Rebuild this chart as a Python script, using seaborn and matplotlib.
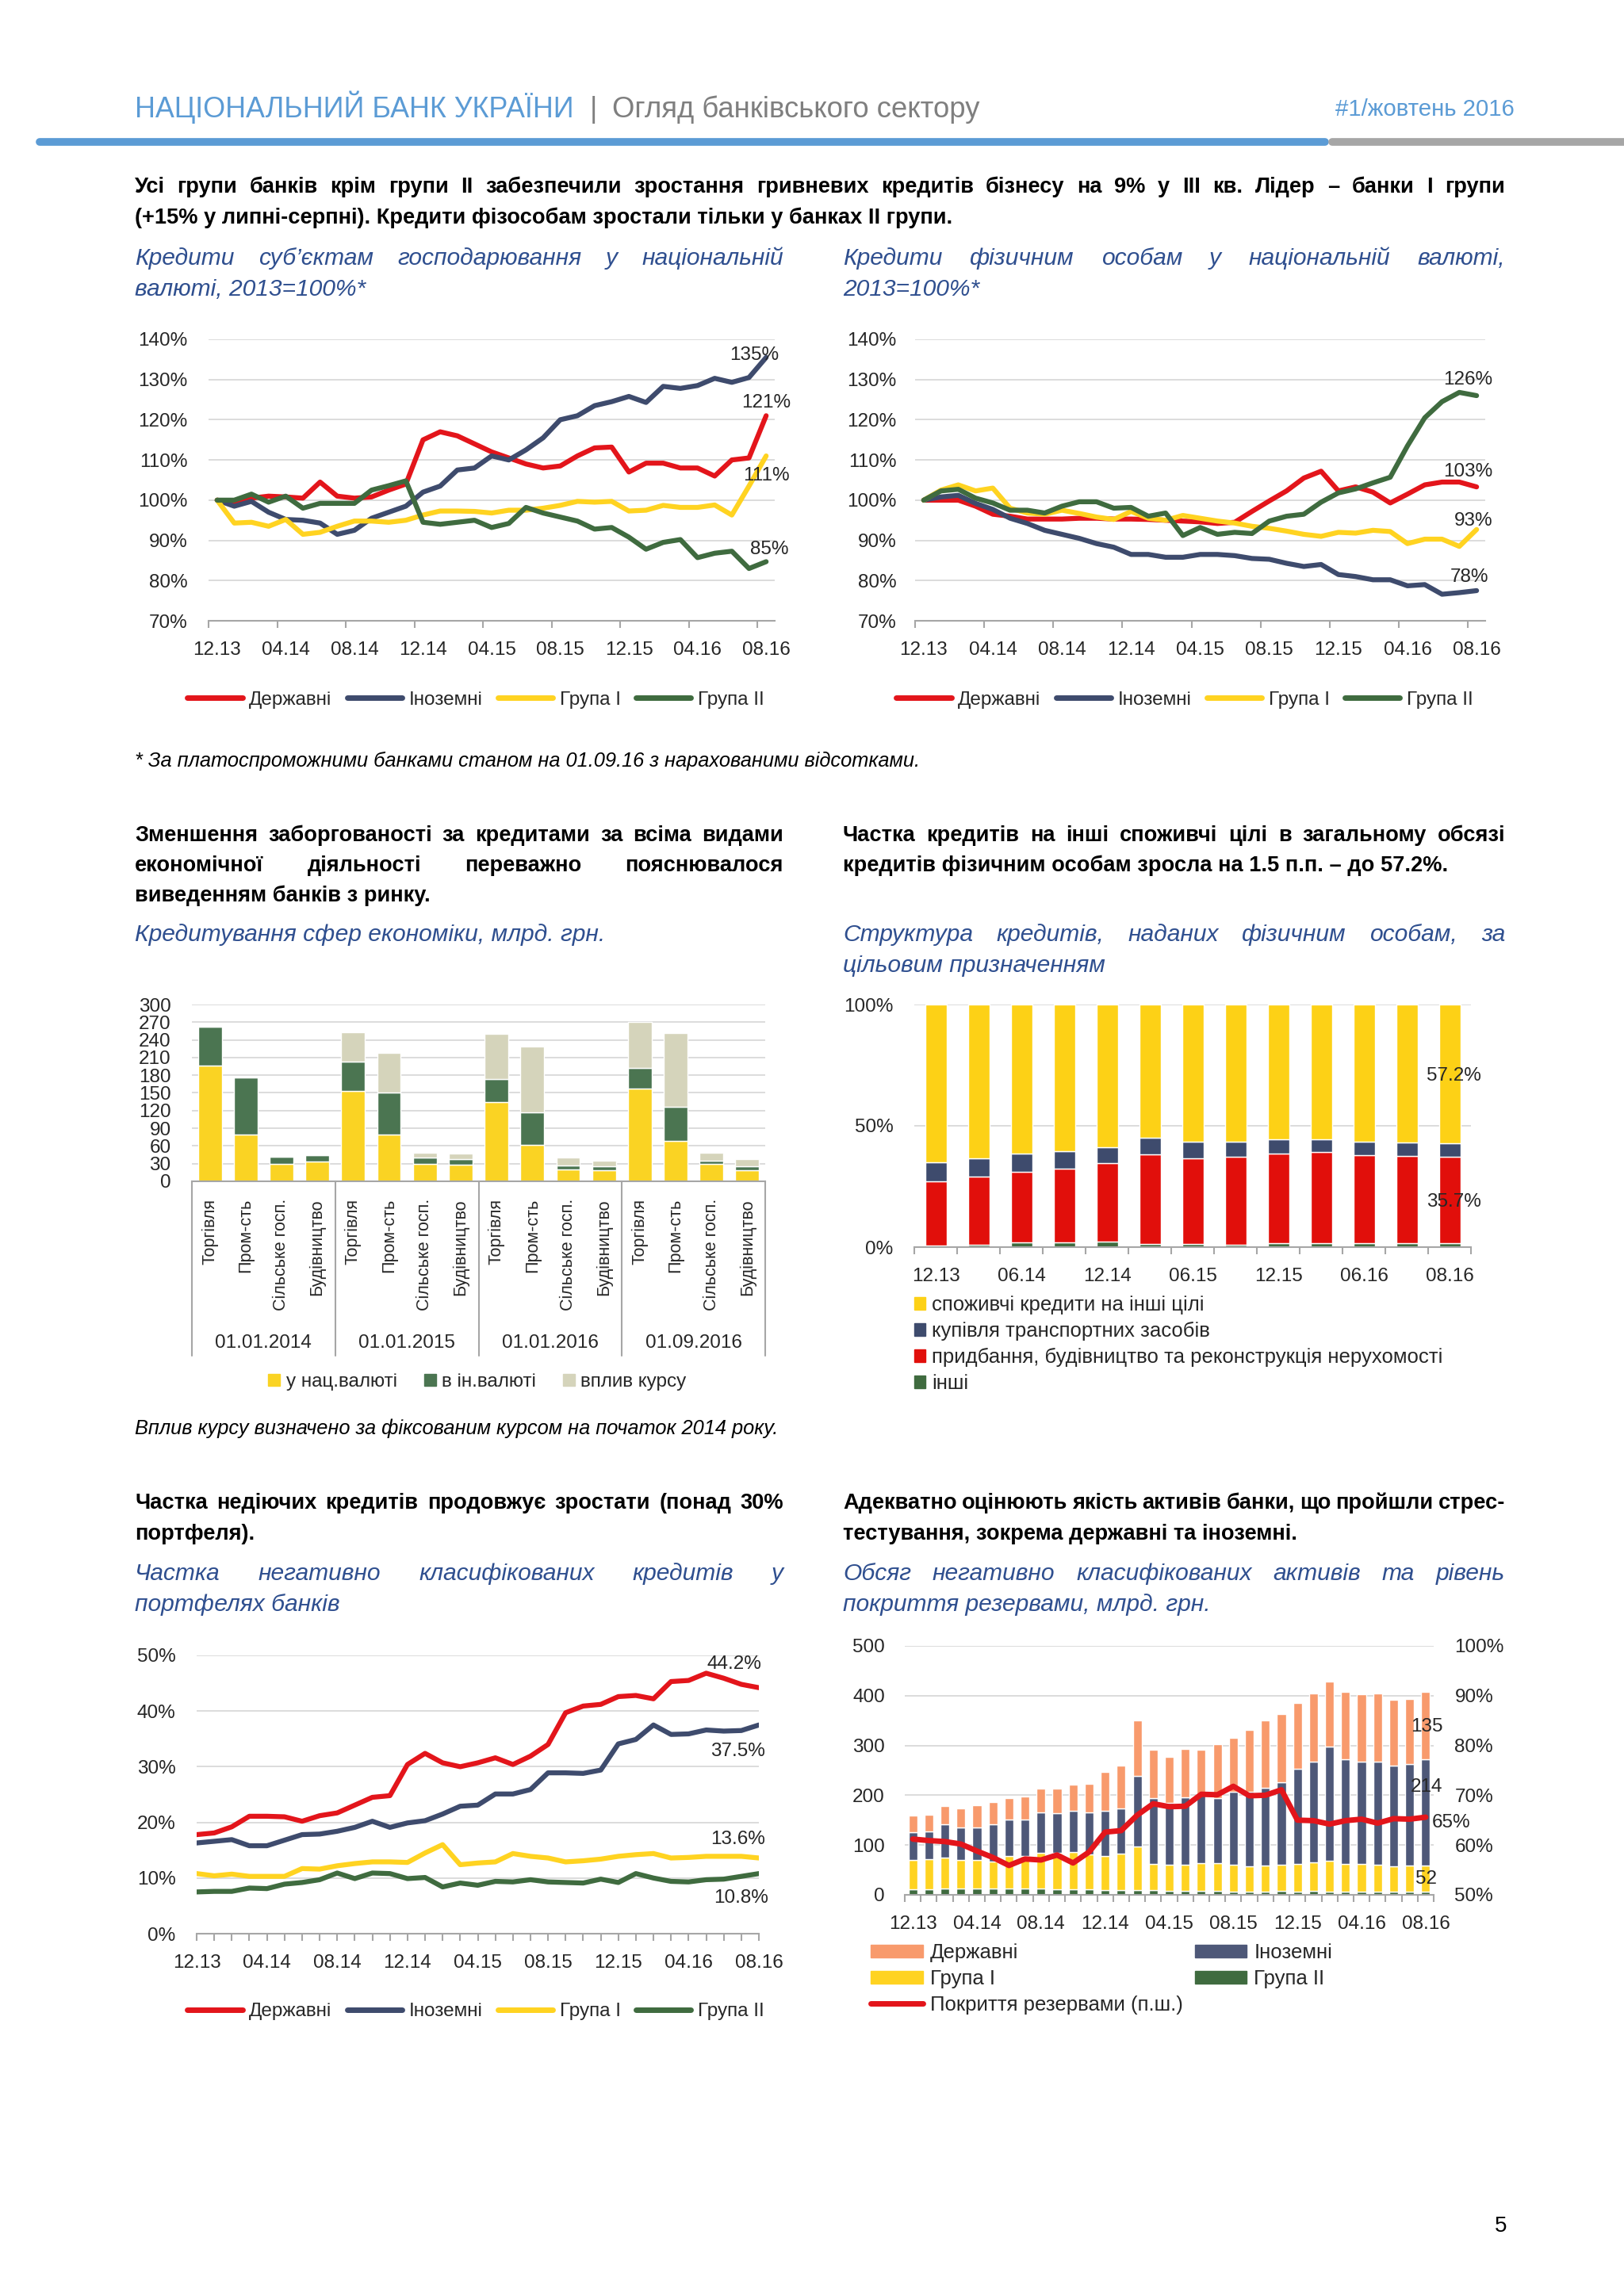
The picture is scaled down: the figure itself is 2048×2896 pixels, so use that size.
import numpy as np
import pandas as pd
import seaborn as sns
import matplotlib.pyplot as plt
from matplotlib.lines import Line2D
from matplotlib.patches import Patch

W, H = 2048, 2896

# ---------------------------------------------------------------- data
groups = ['Державні', 'Іноземні', 'Група I', 'Група II']
month_ticks = ['12.13', '04.14', '08.14', '12.14', '04.15', '08.15', '12.15', '04.16', '08.16']

# кредити бізнесу в нац. валюті, 2013=100%
biz_state = [100, 99.5, 100.5, 101, 100.8, 100.5, 104.5, 101, 100.5, 100.8, 102.5, 104, 115, 117, 116, 114, 112,
             110.5, 109, 108, 108.5, 111, 113, 113.2, 107, 109.2, 109.2, 108, 108, 106, 110, 110.5, 121]
biz_foreign = [100, 98.5, 99.7, 97, 95.2, 95, 94.3, 91.5, 92.5, 95.5, 97, 98.5, 102, 103.5, 107.5, 108, 111,
               110, 112.5, 115.5, 120, 121, 123.5, 124.5, 125.8, 124.3, 128.3, 127.8, 128.5, 130.3, 129.3, 130.5, 135.5]
biz_g1 = [100, 94.3, 94.5, 93.5, 95.2, 91.5, 92, 93.5, 94.8, 94.8, 94.5, 95, 96.3, 97.3, 97.3, 97.2, 96.8,
          97.5, 97.5, 98, 98.7, 99.7, 99.5, 99.7, 97.3, 97.5, 98.7, 98.2, 98.2, 98.8, 96.3, 103.5, 111]
biz_g2 = [100, 100, 101.5, 99.5, 101, 98, 99.2, 99.2, 99.2, 102.5, 103.6, 104.8, 94.5, 94, 94.5, 95, 93.2,
          94.2, 98.2, 96.8, 95.8, 94.8, 92.8, 93.2, 90.8, 87.8, 89.5, 90.2, 85.7, 86.8, 87.3, 83, 84.7]

# кредити фізособам в нац. валюті, 2013=100%
hh_state = [100, 100, 100, 98.5, 96.5, 96, 95.3, 95.3, 95.3, 95.5, 95.5, 95.3, 95.3, 95.2, 95, 94.8, 94.6,
            94.2, 94.5, 97.2, 99.8, 102.3, 105.5, 107.2, 102.3, 103.3, 102, 99.3, 101.5, 103.8, 104.5, 104.5, 103.3]
hh_foreign = [100, 100.8, 101.2, 99.2, 97.7, 95.5, 94.2, 92.5, 91.5, 90.5, 89.2, 88.3, 86.5, 86.5, 85.8, 85.8, 86.5,
              86.5, 86.2, 85.5, 85.3, 84.3, 83.5, 84, 81.5, 81, 80.2, 80.2, 78.7, 79, 76.6, 77, 77.5]
hh_g1 = [100, 102.5, 103.8, 102.3, 103, 98, 96.8, 96.5, 97.5, 96.7, 95.8, 95.2, 97.2, 95.5, 95, 96.2, 95.5,
         94.8, 94.3, 93.5, 93, 92.3, 91.5, 91, 92, 91.8, 92.5, 92.2, 89.2, 90.3, 90.3, 88.5, 92.7]
hh_g2 = [100, 102.3, 102.7, 100.5, 99.3, 97.5, 97.5, 96.8, 98.5, 99.6, 99.6, 98, 98.2, 96, 96.8, 91.2, 93.2,
         91.5, 92, 91.7, 94.8, 96, 96.5, 99.5, 101.8, 102.8, 104.3, 105.7, 113.5, 120.5, 124.5, 126.8, 126]

# кредитування сфер економіки, млрд грн
sectors = ['Торгівля', 'Пром-сть', 'Сільське госп.', 'Будівництво']
sector_dates = ['01.01.2014', '01.01.2015', '01.01.2016', '01.09.2016']
sec_uah = [196, 80, 30, 33, 153, 80, 30, 28, 135, 62, 20, 19, 157, 69, 29, 19]
sec_fx = [67, 96, 12, 12, 50, 71, 10, 10, 39, 55, 7, 6, 36, 57, 6, 6]
sec_rate = [0, 0, 0, 0, 50, 67, 9, 9, 76, 112, 13, 10, 78, 125, 13, 12]

# структура кредитів фізособам, %
purpose_ticks = ['12.13', '06.14', '12.14', '06.15', '12.15', '06.16', '08.16']
p_consumer = [64.9, 63.4, 61.5, 60.6, 58.7, 54.8, 56.6, 56.4, 55.7, 55.4, 56.6, 57.0, 57.2]
p_vehicle = [8.1, 7.5, 7.3, 7.1, 6.7, 6.9, 6.8, 6.4, 5.7, 5.3, 5.4, 5.5, 5.6]
p_realty = [26.2, 28.1, 29.2, 30.3, 32.4, 37.1, 35.4, 36.2, 37.1, 37.8, 36.5, 36.0, 35.7]
p_other = [0.8, 1.0, 2.0, 2.0, 2.2, 1.2, 1.2, 1.0, 1.5, 1.5, 1.5, 1.5, 1.5]

# частка негативно класифікованих кредитів, %
npl_state = [17.8, 18.1, 19.2, 21.1, 21.1, 21.0, 20.2, 21.2, 21.7, 23.1, 24.5, 24.8, 30.4, 32.4, 30.7, 30.0, 30.7,
             31.6, 30.4, 31.9, 34.0, 39.7, 40.9, 41.2, 42.6, 42.8, 42.2, 45.3, 45.5, 46.8, 45.9, 44.8, 44.2]
npl_foreign = [16.3, 16.6, 16.9, 15.8, 15.8, 16.8, 17.8, 17.9, 18.4, 19.1, 20.2, 19.1, 19.9, 20.3, 21.5, 22.9, 23.1,
               25.1, 25.1, 25.9, 28.9, 28.9, 28.8, 29.4, 34.1, 34.9, 37.5, 35.8, 35.9, 36.6, 36.4, 36.5, 37.5]
npl_g1 = [10.8, 10.4, 10.7, 10.3, 10.3, 10.3, 11.7, 11.6, 12.2, 12.6, 12.9, 12.9, 12.8, 14.5, 16.0, 12.4, 12.7,
          12.9, 14.4, 13.9, 13.6, 12.9, 13.1, 13.4, 13.9, 14.2, 14.4, 13.6, 13.7, 13.9, 13.9, 13.9, 13.6]
npl_g2 = [7.5, 7.6, 7.6, 8.2, 8.1, 8.9, 9.2, 9.7, 10.9, 9.9, 10.9, 10.8, 9.9, 10.1, 8.4, 9.1, 8.7,
          9.4, 9.3, 9.7, 9.3, 9.2, 9.1, 9.8, 9.2, 10.8, 10.0, 9.4, 9.3, 9.7, 9.8, 10.3, 10.8]

# обсяг негативно класифікованих активів, млрд грн, та покриття резервами, %
na_state = [33, 33, 37, 39, 45, 44, 43, 45, 48, 50, 52, 57, 79, 85, 112, 98, 93, 97, 92, 107, 109, 125, 136, 137,
            132, 137, 132, 135, 135, 136, 133, 131, 135]
na_foreign = [56, 57, 67, 65, 65, 75, 74, 74, 81, 80, 83, 84, 90, 91, 142, 132, 124, 135, 136, 131, 146, 150, 156,
              165, 191, 203, 229, 211, 206, 207, 201, 203, 214]
na_g1 = [59, 60, 63, 58, 58, 55, 66, 66, 72, 73, 75, 71, 68, 74, 88, 53, 52, 53, 56, 56, 54, 50, 52, 53, 55, 57,
         61, 55, 55, 54, 51, 52, 52]
na_g2 = [11, 11, 12, 12, 12, 12, 12, 12, 12, 11, 11, 11, 10, 9, 9, 9, 8, 8, 8, 8, 7, 7, 7, 8, 7, 8, 7, 7, 7, 7,
         7, 7, 7]
coverage = [61.2, 60.9, 60.7, 60.2, 58.8, 57.5, 55.9, 57.2, 57.0, 58.0, 56.4, 58.6, 62.6, 62.9, 66.0, 68.3, 67.7,
            67.8, 70.2, 70.1, 71.8, 69.9, 70.0, 71.1, 65.0, 64.9, 64.2, 64.9, 65.2, 64.4, 65.3, 65.2, 65.6]

# ---------------------------------------------------------------- style
sns.set_theme(style='white')
plt.rcParams['font.family'] = ['Liberation Sans', 'DejaVu Sans']

RED, NAVY, YEL, GRN = '#e3151b', '#3e4b6d', '#ffd321', '#3f6b3f'
line_cols = dict(zip(groups, [RED, NAVY, YEL, GRN]))
TXT = '#262626'
SUB = '#2f4f8f'
AXC = '#a6a6a6'
TICK = 17.5
LEG2 = 18.5

fig = plt.figure(figsize=(W / 100, H / 100), dpi=100)
R = fig.canvas.get_renderer()


def add_ax(x0, y0, x1, y1):
    return fig.add_axes([x0 / W, 1 - y1 / H, (x1 - x0) / W, (y1 - y0) / H])


def width(s, size, **kw):
    t = fig.text(0, 0, s, fontsize=size, **kw)
    w = t.get_window_extent(R).width
    t.remove()
    return w


def fit(s, target, **kw):
    return 10 * target / width(s, 10, **kw)


def put(x, y, s, size, ha='left', **kw):
    base = y + 0.36 * size / 0.72
    fig.text(x / W, 1 - base / H, s, fontsize=size, ha=ha, va='baseline', **kw)


def para(x0, x1, y, lines, size, lh=38.8, **kw):
    for k, s in enumerate(lines):
        yy = y + k * lh
        words = s.split(' ')
        if k == len(lines) - 1 or len(words) < 2:
            put(x0, yy, s, size, **kw)
            continue
        ws = [width(w, size, **kw) for w in words]
        gap = (x1 - x0 - sum(ws)) / (len(words) - 1)
        x = x0
        for w, wd in zip(words, ws):
            put(x, yy, w, size, **kw)
            x += wd + gap


def style(ax, ypad):
    ax.set_xlabel('')
    ax.set_ylabel('')
    for s in ['left', 'top', 'right']:
        ax.spines[s].set_visible(False)
    ax.spines['bottom'].set_color(AXC)
    ax.spines['bottom'].set_linewidth(1.5)
    ax.grid(axis='y', color='#d9d9d9', lw=1.3)
    ax.grid(axis='x', visible=False)
    ax.set_axisbelow(True)
    ax.tick_params(axis='y', length=0, pad=ypad, labelsize=TICK, labelcolor=TXT)
    ax.tick_params(axis='x', labelsize=TICK, labelcolor=TXT)


def lines_df(vals):
    n = len(vals[0])
    return pd.DataFrame({'x': np.tile(np.arange(n), len(vals)),
                         'v': np.concatenate(vals),
                         'g': np.repeat(groups, n)})


def line_legend(cx, cy):
    hs = [Line2D([], [], color=line_cols[g], lw=5, solid_capstyle='round') for g in groups]
    fig.legend(hs, groups, loc='center', bbox_to_anchor=(cx / W, 1 - cy / H), ncol=4, frameon=False,
               fontsize=TICK, handlelength=2.85, handletextpad=0.35, columnspacing=0.8,
               borderpad=0, labelcolor=TXT)


# ---------------------------------------------------------------- header
put(170, 135, 'НАЦІОНАЛЬНИЙ БАНК УКРАЇНИ', fit('НАЦІОНАЛЬНИЙ БАНК УКРАЇНИ', 554), color='#5b9bd5')
put(748, 135, '|', 26, color='#7f7f7f', ha='center')
put(772, 135, 'Огляд банківського сектору', fit('Огляд банківського сектору', 465), color='#7f7f7f')
put(1684, 135, '#1/жовтень 2016', fit('#1/жовтень 2016', 227), color='#5b9bd5')
fig.add_artist(Line2D([50 / W, 1671 / W], [1 - 179 / H] * 2, color='#5b9bd5', lw=7))
fig.add_artist(Line2D([1680 / W, 1], [1 - 179 / H] * 2, color='#a6a6a6', lw=7))

# ---------------------------------------------------------------- texts
headline = ['Усі групи банків крім групи II забезпечили зростання гривневих кредитів бізнесу на 9% у III кв. Лідер – банки I групи',
            '(+15% у липні-серпні). Кредити фізособам зростали тільки у банках II групи.']
head3 = ['Зменшення заборгованості за кредитами за всіма видами', 'економічної діяльності переважно пояснювалося',
         'виведенням банків з ринку.']
head4 = ['Частка кредитів на інші споживчі цілі в загальному обсязі',
         'кредитів фізичним особам зросла на 1.5 п.п. – до 57.2%.']
head5 = ['Частка недіючих кредитів продовжує зростати (понад 30%', 'портфеля).']
head6 = ['Адекватно оцінюють якість активів банки, що пройшли стрес-', 'тестування, зокрема державні та іноземні.']
sub1 = ['Кредити суб’єктам господарювання у національній', 'валюті, 2013=100%*']
sub2 = ['Кредити фізичним особам у національній валюті,', '2013=100%*']
sub3 = ['Кредитування сфер економіки, млрд. грн.']
sub4 = ['Структура кредитів, наданих фізичним особам, за', 'цільовим призначенням']
sub5 = ['Частка негативно класифікованих кредитів у', 'портфелях банків']
sub6 = ['Обсяг негативно класифікованих активів та рівень', 'покриття резервами, млрд. грн.']
foot1 = '* За платоспроможними банками станом на 01.09.16 з нарахованими відсотками.'
note3 = 'Вплив курсу визначено за фіксованим курсом на початок 2014 року.'

B = dict(fontweight='bold', color='black')
I = dict(style='italic', color=SUB)
bsize = np.median([fit(headline[1], 1027, **B), fit(head3[2], 378, **B), fit(head4[1], 762, **B),
                   fit(head5[1], 148, **B), fit(head6[1], 579, **B)])
isize = np.median([fit(sub1[1], 292, **I), fit(sub3[0], 593, **I), fit(sub4[1], 335, **I),
                   fit(sub5[1], 258, **I), fit(sub6[1], 466, **I)])
nsize = np.mean([fit(foot1, 999, style='italic'), fit(note3, 809, style='italic')])

LX0, LX1, RX0, RX1 = 170, 988, 1063, 1898
para(LX0, RX1, 233, headline, bsize, **B)
para(LX0, LX1, 323, sub1, isize, **I)
para(RX0, RX1, 323, sub2, isize, **I)
put(LX0, 958, foot1, nsize, style='italic', color='black')
para(LX0, LX1, 1051, head3, bsize, lh=38.3, **B)
para(RX0, RX1, 1051, head4, bsize, lh=38.3, **B)
para(LX0, LX1, 1176, sub3, isize, **I)
para(RX0, RX1, 1176, sub4, isize, **I)
put(LX0, 1800, note3, nsize, style='italic', color='black')
para(LX0, LX1, 1893, head5, bsize, **B)
para(RX0, RX1, 1893, head6, bsize, **B)
para(LX0, LX1, 1982, sub5, isize, **I)
para(RX0, RX1, 1982, sub6, isize, **I)
put(1893, 2805, '5', 20, ha='center', color='black')

# ---------------------------------------------------------------- index charts
for box, vals, ypad, notes, legx in [
        ((263, 428, 977, 783), [biz_state, biz_foreign, biz_g1, biz_g2], 19,
         [(31.3, 136, '135%'), (32.0, 124.2, '121%'), (32.0, 106.1, '111%'), (32.2, 87.7, '85%')], 600),
        ((1154, 428, 1873, 783), [hh_state, hh_foreign, hh_g1, hh_g2], 17,
         [(31.5, 129.9, '126%'), (31.5, 107.1, '103%'), (31.8, 94.8, '93%'), (31.6, 80.8, '78%')], 1494)]:
    ax = add_ax(*box)
    sns.lineplot(data=lines_df(vals), x='x', y='v', hue='g', hue_order=groups, palette=line_cols,
                 lw=4.5, legend=False, ax=ax)
    style(ax, ypad)
    ax.set_xlim(-0.5, 32.5)
    ax.set_ylim(70, 140)
    ax.set_yticks(range(70, 141, 10))
    ax.set_yticklabels([f'{v}%' for v in range(70, 141, 10)])
    ax.set_xticks(range(0, 33, 4))
    ax.set_xticklabels(month_ticks)
    ax.set_xticks(np.arange(-0.5, 33, 4), minor=True)
    ax.tick_params(axis='x', which='major', length=0, pad=19)
    ax.tick_params(axis='x', which='minor', bottom=True, length=6.5, width=1.5, color=AXC)
    for x, y, s in notes:
        ax.text(x, y, s, ha='center', va='center', fontsize=TICK, color=TXT, clip_on=False)
    line_legend(legx, 883)

# ---------------------------------------------------------------- sectors
ax = add_ax(242, 1267, 965, 1490)
xs = np.arange(len(sec_uah))
bot2 = np.add(sec_uah, sec_fx)
ax.bar(xs, sec_uah, width=0.66, color='#fad323')
ax.bar(xs, sec_fx, bottom=sec_uah, width=0.66, color='#4b7551')
ax.bar(xs, sec_rate, bottom=bot2, width=0.66, color='#d5d4bb')
style(ax, 19)
ax.set_xlim(-0.5, 15.5)
ax.set_ylim(0, 300)
ax.set_yticks(range(0, 301, 30))
ax.set_xticks(xs)
ax.set_xticklabels(sectors * 4, rotation=90, fontsize=15.5)
ax.tick_params(axis='x', length=0, pad=16)
xt = ax.get_xaxis_transform()
for k, d in enumerate(sector_dates):
    ax.text(k * 4 + 1.5, -0.915, d, transform=xt, ha='center', va='center', fontsize=TICK, color=TXT)
for xb in [-0.5, 3.5, 7.5, 11.5, 15.5]:
    ax.plot([xb, xb], [0, -0.985], transform=xt, color=AXC, lw=1.5, clip_on=False)
hs = [Patch(color='#fad323'), Patch(color='#4b7551'), Patch(color='#d5d4bb')]
fig.legend(hs, ['у нац.валюті', 'в ін.валюті', 'вплив курсу'], loc='center',
           bbox_to_anchor=(602 / W, 1 - 1743 / H), ncol=3, frameon=False, fontsize=TICK,
           handlelength=0.62, handleheight=0.6, handletextpad=0.3, columnspacing=1.4, borderpad=0,
           labelcolor=TXT)

# ---------------------------------------------------------------- purposes
ax = add_ax(1153, 1267, 1855, 1573)
xs = np.arange(len(p_consumer))
b1 = np.array(p_other)
b2 = b1 + p_realty
b3 = b2 + p_vehicle
ax.bar(xs, p_other, width=0.5, color=GRN)
ax.bar(xs, p_realty, bottom=b1, width=0.5, color='#e10f0b')
ax.bar(xs, p_vehicle, bottom=b2, width=0.5, color=NAVY)
ax.bar(xs, p_consumer, bottom=b3, width=0.5, color='#fdd116')
style(ax, 19)
ax.set_xlim(-0.5, 12.5)
ax.set_ylim(0, 100)
ax.set_yticks([0, 50, 100])
ax.set_yticklabels(['0%', '50%', '100%'])
ax.set_xticks(range(0, 13, 2))
ax.set_xticklabels(purpose_ticks)
ax.set_xticks(np.arange(-0.5, 13, 1), minor=True)
ax.tick_params(axis='x', which='major', length=0, pad=19)
ax.tick_params(axis='x', which='minor', bottom=True, length=6.5, width=1.5, color=AXC)
ax.text(12.1, 70.6, '57.2%', ha='center', va='center', fontsize=TICK, color=TXT)
ax.text(12.1, 18.6, '35.7%', ha='center', va='center', fontsize=TICK, color=TXT)
hs = [Patch(color='#fdd116'), Patch(color=NAVY), Patch(color='#e10f0b'), Patch(color=GRN)]
fig.legend(hs, ['споживчі кредити на інші цілі', 'купівля транспортних засобів',
                'придбання, будівництво та реконструкція нерухомості', 'інші'],
           loc='upper left', bbox_to_anchor=(1153 / W, 1 - 1634 / H), frameon=False, fontsize=LEG2,
           handlelength=0.56, handleheight=0.56, handletextpad=0.3, labelspacing=0.35, borderpad=0,
           borderaxespad=0, labelcolor=TXT)

# ---------------------------------------------------------------- NPL shares
ax = add_ax(248, 2088, 957, 2439)
sns.lineplot(data=lines_df([npl_state, npl_foreign, npl_g1, npl_g2]), x='x', y='v', hue='g',
             hue_order=groups, palette=line_cols, lw=4.5, legend=False, ax=ax)
style(ax, 19)
ax.set_xlim(0, 32)
ax.set_ylim(0, 50)
ax.set_yticks(range(0, 51, 10))
ax.set_yticklabels([f'{v}%' for v in range(0, 51, 10)])
ax.set_xticks(range(0, 33, 4))
ax.set_xticklabels(month_ticks)
ax.set_xticks(range(33), minor=True)
ax.tick_params(axis='x', which='both', bottom=True, length=6.5, width=1.5, color=AXC)
ax.tick_params(axis='x', which='major', pad=12.5)
for x, y, s in [(30.6, 48.4, '44.2%'), (30.8, 32.8, '37.5%'), (30.8, 17.0, '13.6%'), (31.0, 6.4, '10.8%')]:
    ax.text(x, y, s, ha='center', va='center', fontsize=TICK, color=TXT, clip_on=False)
line_legend(600, 2537)

# ---------------------------------------------------------------- NPA volume + coverage
ax = add_ax(1141, 2076, 1808, 2390)
xs = np.arange(len(na_state))
c1 = np.array(na_g2)
c2 = c1 + na_g1
c3 = c2 + na_foreign
SAL, NAV2 = '#f89a6c', '#4e5878'
ax.bar(xs, na_g2, width=0.55, color=GRN)
ax.bar(xs, na_g1, bottom=c1, width=0.55, color=YEL)
ax.bar(xs, na_foreign, bottom=c2, width=0.55, color=NAV2)
ax.bar(xs, na_state, bottom=c3, width=0.55, color=SAL)
style(ax, 18)
ax.set_ylim(0, 500)
ax.set_yticks(range(0, 501, 100))
ax2 = ax.twinx()
sns.lineplot(x=xs, y=coverage, color=RED, lw=5, ax=ax2)
ax2.set_ylim(50, 100)
ax2.set_yticks(range(50, 101, 10))
ax2.set_yticklabels([f'{v}%' for v in range(50, 101, 10)])
ax2.tick_params(axis='y', right=True, length=0, pad=19, labelsize=TICK, labelcolor=TXT)
ax2.grid(False)
for s in ['left', 'top', 'right', 'bottom']:
    ax2.spines[s].set_visible(False)
ax2.set_ylabel('')
for a in (ax, ax2):
    a.set_xlim(-0.5, 32.5)
ax.set_xticks(range(0, 33, 4))
ax.set_xticklabels(month_ticks)
ax.set_xticks(np.arange(-0.5, 33, 1), minor=True)
ax.tick_params(axis='x', which='major', length=0, pad=19)
ax.tick_params(axis='x', which='minor', bottom=True, length=6.5, width=1.5, color=AXC)
for x, y, s in [(32.05, 338, '135'), (32.05, 217, '214'), (33.6, 145, '65%'), (32.05, 32, '52')]:
    ax2.text(x, 50 + y / 10, s, ha='center', va='center', fontsize=TICK, color=TXT, clip_on=False, zorder=5)
hs = [Patch(color=SAL), Patch(color=YEL), Line2D([], [], color=RED, lw=5, solid_capstyle='round'),
      Patch(color=NAV2), Patch(color=GRN)]
fig.legend(hs, ['Державні', 'Група I', 'Покриття резервами (п.ш.)', 'Іноземні', 'Група II'], ncol=2,
           loc='upper left', bbox_to_anchor=(1098 / W, 1 - 2451 / H), frameon=False, fontsize=LEG2,
           handlelength=2.55, handleheight=0.62, handletextpad=0.35, labelspacing=0.35, columnspacing=0.6,
           borderpad=0, borderaxespad=0, labelcolor=TXT)

fig.savefig('out.png', dpi=100, facecolor='white')
